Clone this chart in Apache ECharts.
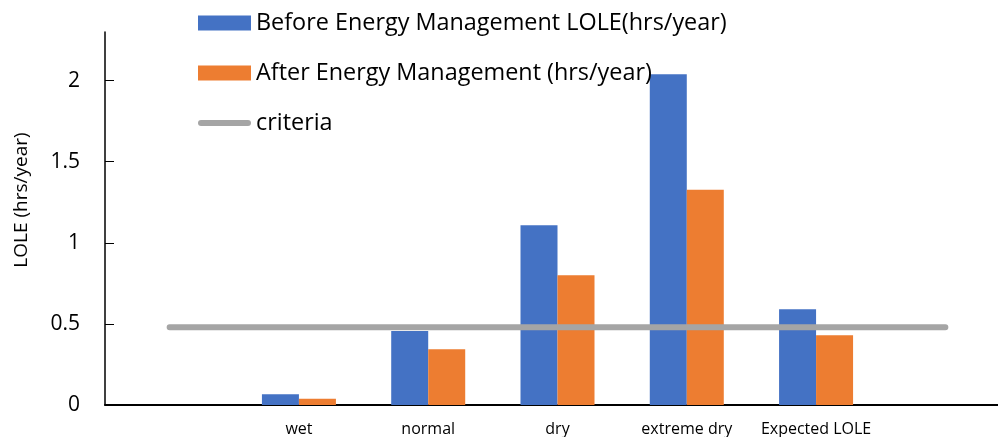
<!DOCTYPE html>
<html>
<head>
<meta charset="utf-8">
<script src="https://cdn.jsdelivr.net/npm/echarts@6/dist/echarts.min.js"></script>
<style>
  html, body { margin: 0; padding: 0; background: #fff; }
  #main { width: 998px; height: 437px; }
</style>
</head>
<body>
<div id="main"></div>
<script>
// 类目（首尾两个空类目让 criteria 线延伸出去）
var categories = ['', 'wet', 'normal', 'dry', 'extreme dry', 'Expected LOLE', ''];
var beforeLOLE = [null, 0.066, 0.457, 1.108, 2.04, 0.59, null];
var afterLOLE = [null, 0.039, 0.343, 0.80, 1.327, 0.43, null];
var criteria = [0.48, 0.48, 0.48, 0.48, 0.48, 0.48, 0.48];
var yTicks = [0, 0.5, 1, 1.5, 2];

var chart = echarts.init(document.getElementById('main'));

var font = 'Open Sans';

var option = {
  animation: false,
  color: ['#4472C4', '#ED7D31', '#A5A5A5'],
  legend: {
    orient: 'vertical',
    left: 193,
    top: 6,
    itemWidth: 53,
    itemHeight: 15,
    itemGap: 26,
    symbolKeepAspect: true,
    textStyle: { fontFamily: font, fontSize: 23.4, color: '#000', lineHeight: 24 },
    data: [
      { name: 'Before Energy Management LOLE(hrs/year)', icon: 'rect' },
      { name: 'After Energy Management (hrs/year)', icon: 'rect' },
      // 图例里的 criteria 是一条圆头灰线
      { name: 'criteria', icon: 'path://M3,0 L50,0 A3,3,0,0,1,50,6 L3,6 A3,3,0,0,1,3,0 Z' }
    ]
  },
  grid: {
    left: 105,
    top: 32,
    right: -12,
    bottom: 32,
    outerBoundsMode: 'none'
  },
  graphic: [{
    type: 'text',
    x: 22,
    y: 200,
    rotation: Math.PI / 2,
    style: {
      text: 'LOLE (hrs/year)',
      fontFamily: font,
      fontSize: 19,
      fill: '#000',
      align: 'center',
      verticalAlign: 'middle'
    }
  }],
  xAxis: {
    type: 'category',
    data: categories,
    axisLine: { lineStyle: { color: '#000', width: 2 } },
    axisTick: { show: false },
    axisLabel: { fontFamily: font, fontSize: 16, color: '#000', margin: 16, interval: 0 }
  },
  yAxis: {
    type: 'value',
    min: 0,
    max: 2.3,
    axisLine: { show: true, lineStyle: { color: '#000', width: 1.5 } },
    axisTick: { show: true, inside: true, length: 9, customValues: yTicks, lineStyle: { color: '#000' } },
    axisLabel: { fontFamily: font, fontSize: 21, color: '#000', margin: 25, customValues: yTicks },
    splitLine: { show: false }
  },
  series: [
    {
      name: 'Before Energy Management LOLE(hrs/year)',
      type: 'bar',
      barWidth: 37,
      barGap: '0%',
      data: beforeLOLE
    },
    {
      name: 'After Energy Management (hrs/year)',
      type: 'bar',
      barWidth: 37,
      barGap: '0%',
      data: afterLOLE
    },
    {
      name: 'criteria',
      type: 'line',
      symbol: 'none',
      data: criteria,
      lineStyle: { width: 6, cap: 'round', color: '#A5A5A5' }
    }
  ]
};

chart.setOption(option);
</script>
</body>
</html>
